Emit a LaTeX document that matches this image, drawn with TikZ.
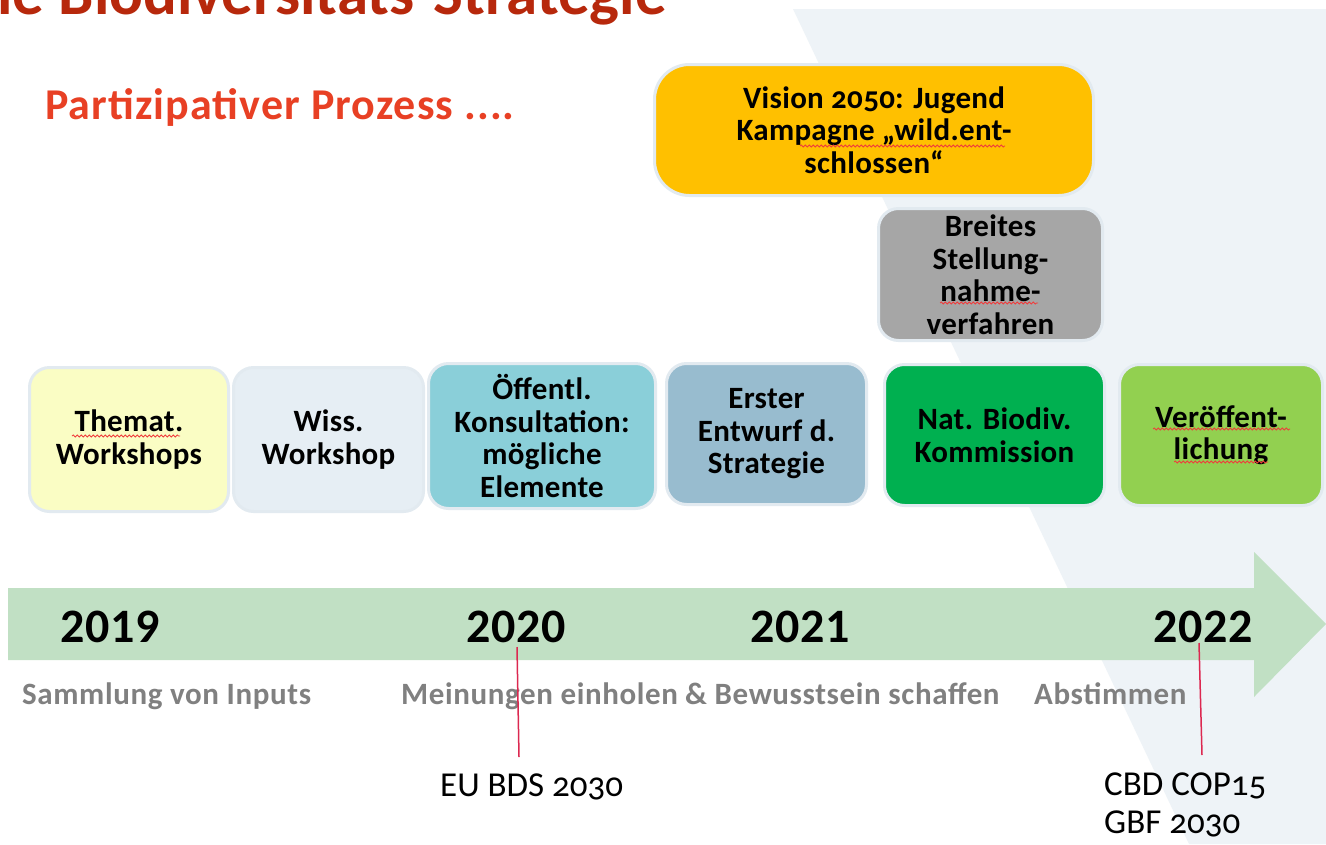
\documentclass[tikz,border=0pt]{standalone}
\usepackage{fontspec}
\usetikzlibrary{decorations.pathmorphing}
\setmainfont{Carlito}
\definecolor{titlered}{RGB}{183,40,12}
\definecolor{partred}{RGB}{232,64,36}
\definecolor{boxborder}{RGB}{226,234,240}
\definecolor{bgblue}{RGB}{238,243,247}
\definecolor{cyellow}{RGB}{250,253,196}
\definecolor{cwiss}{RGB}{230,238,244}
\definecolor{cteal}{RGB}{138,207,217}
\definecolor{cerster}{RGB}{152,188,207}
\definecolor{cnat}{RGB}{0,176,80}
\definecolor{clight}{RGB}{146,208,80}
\definecolor{cgray}{RGB}{166,166,166}
\definecolor{cgold}{RGB}{255,192,0}
\definecolor{arrowgreen}{RGB}{193,224,196}
\definecolor{phasegray}{RGB}{128,128,128}
\definecolor{markred}{RGB}{220,40,80}
\definecolor{spellred}{RGB}{240,60,60}
\newcommand\boxfont{\fontsize{31}{32.5}\selectfont\bfseries\addfontfeatures{LetterSpace=1}}
\newcommand\yearfont{\fontsize{48}{50}\selectfont\bfseries\addfontfeatures{LetterSpace=1}}
\newcommand\phasefont{\fontsize{31}{34}\selectfont\bfseries\addfontfeatures{LetterSpace=2}}
\newcommand\eventfont{\fontsize{35}{38}\selectfont}
\newcommand\titlefont{\fontsize{63}{70}\selectfont\bfseries}
\newcommand\partfont{\fontsize{44}{50}\selectfont\bfseries\addfontfeatures{LetterSpace=2.5}}
\newcommand\osf[1]{{\addfontfeatures{Numbers=OldStyle}#1}}
\begin{document}
\begin{tikzpicture}[x=1pt,y=-1pt,
  box/.style={draw=boxborder, line width=3pt, rounded corners=20pt, inner sep=0pt, align=center, font=\boxfont, text=black},
  year/.style={font=\yearfont, anchor=base, inner sep=0pt},
  phase/.style={font=\phasefont, text=phasegray, anchor=base west, inner sep=0pt},
  event/.style={font=\eventfont, anchor=base west, inner sep=0pt, align=left},
  marker/.style={draw=markred, line width=1.5pt},
  spell/.style={draw=spellred, line width=0.8pt, decorate, decoration={snake, segment length=4pt, amplitude=1pt}}]
\useasboundingbox (0,0) rectangle (1326,844);
\clip (0,0) rectangle (1326,844);
\fill[white] (0,0) rectangle (1326,844);
\fill[bgblue] (793,9) -- (1326,9) -- (1326,844) -- (1189,844) -- cycle;
% titles
\node[anchor=base east, font=\titlefont, text=titlered, inner sep=0pt] (title) at (667,14) {ie Biodiversitäts-Strategie};
\node[anchor=base west, font=\partfont, text=partred, inner sep=0pt] (part) at (45,119) {Partizipativer Prozess ....};
% boxes
\node[box, fill=cgold, rounded corners=35pt, minimum width=439pt, minimum height=131pt] (vision) at (874,130) {Vision \osf{2050}: Jugend\\Kampagne „wild.ent-\\schlossen“};
\node[box, fill=cgray, minimum width=224pt, minimum height=132pt] (breites) at (990.5,274.5) {Breites\\Stellung-\\nahme-\\verfahren};
\node[box, fill=cyellow, minimum width=199pt, minimum height=144pt] (themat) at (129,439.5) {Themat.\\Workshops};
\node[box, fill=cwiss, minimum width=190pt, minimum height=144pt] (wiss) at (328.5,439.5) {Wiss.\\Workshop};
\node[box, fill=cteal, minimum width=227pt, minimum height=145pt] (oeff) at (542,436) {Öffentl.\\Konsultation:\\mögliche\\Elemente};
\node[box, fill=cerster, minimum width=200pt, minimum height=141pt] (erster) at (766.5,434) {Erster\\Entwurf d.\\Strategie};
\node[box, fill=cnat, minimum width=220pt, minimum height=141pt] (nat) at (994.5,435) {Nat. Biodiv.\\Kommission};
\node[box, fill=clight, minimum width=203pt, minimum height=141pt] (veroeff) at (1221,435) {Veröffent-\\lichung};
% spell-check underlines
\draw[spell] (72,436) -- (180,436);
\draw[spell] (800,146) -- (1005,146);
\draw[spell] (940,303) -- (1038,303);
\draw[spell] (1153,429) -- (1290,429);
\draw[spell] (1174,462) -- (1268,462);
% timeline arrow
\fill[arrowgreen] (8,588) -- (1254,588) -- (1254,552) -- (1326,624) -- (1254,697) -- (1254,660) -- (8,660) -- cycle;
\node[year] (y2019) at (110,642) {2019};
\node[year] (y2020) at (516,642) {2020};
\node[year] (y2021) at (800,642) {2021};
\node[year] (y2022) at (1203,642) {2022};
% phases
\node[phase] (p1) at (22,704) {Sammlung von Inputs};
\node[phase] (p2) at (401,704) {Meinungen einholen};
\node[phase] (p3) at (685,704) {\& Bewusstsein schaffen};
\node[phase] (p4) at (1034,704) {Abstimmen};
% events
\node[event] (eu) at (440,796) {EU BDS \osf{2030}};
\node[event] (cbd) at (1104,833) {CBD COP\osf{15}\\GBF \osf{2030}};
\coordinate (m1a) at (517,647);
\coordinate (m1b) at (519,757);
\coordinate (m2a) at (1199,643);
\coordinate (m2b) at (1202,755);
\draw[marker] (m1a) -- (m1b);
\draw[marker] (m2a) -- (m2b);
\end{tikzpicture}
\end{document}
